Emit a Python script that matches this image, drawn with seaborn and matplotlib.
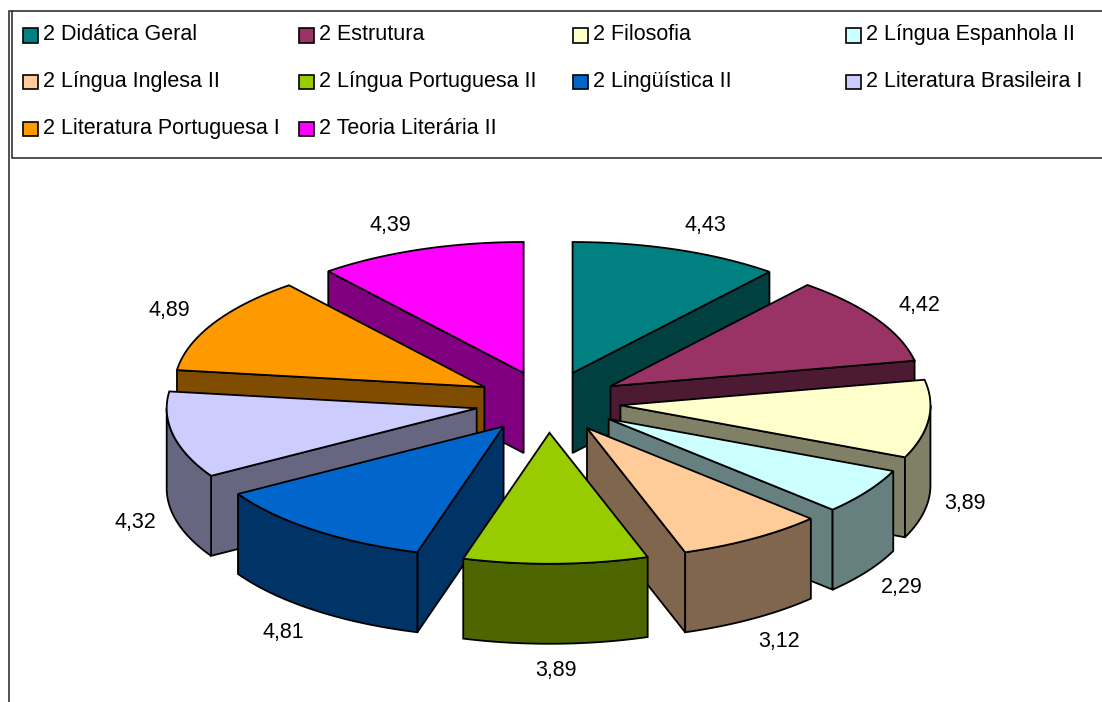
import numpy as np
import matplotlib
matplotlib.use("Agg")
import matplotlib.pyplot as plt
from matplotlib.patches import Patch, Rectangle
from matplotlib.legend_handler import HandlerPatch
import seaborn as sns

categories = ["2 Didática Geral", "2 Estrutura", "2 Filosofia", "2 Língua Espanhola II",
              "2 Língua Inglesa II", "2 Língua Portuguesa II", "2 Lingüística II",
              "2 Literatura Brasileira I", "2 Literatura Portuguesa I", "2 Teoria Literária II"]
values = [4.43, 4.42, 3.89, 2.29, 3.12, 3.89, 4.81, 4.32, 4.89, 4.39]
colors = ["#008080", "#993366", "#FFFFCC", "#CCFFFF", "#FFCC99",
          "#99CC00", "#0066CC", "#CCCCFF", "#FF9900", "#FF00FF"]

sns.set_theme(style="white")
plt.rcParams["font.family"] = ["Liberation Sans", "DejaVu Sans"]
palette = sns.color_palette(colors)
FS = 15.5

fig = plt.figure(figsize=(11.02, 7.02), dpi=100)
ax = fig.add_axes([0, 0, 1, 1])
ax.set_xlim(0, 1102)
ax.set_ylim(702, 0)
ax.axis("off")

# frame lines
EDGE = "#222222"
ax.plot([8.5, 8.5, 1102], [702, 10.5, 10.5], color=EDGE, lw=1.1, solid_joinstyle="miter")
ax.plot([11.5, 11.5, 1102], [10.5, 158, 158], color=EDGE, lw=1.1, solid_joinstyle="miter")

# pie geometry
CX, CY, RX, RY, DEPTH, EXPLODE = 548, 402, 310, 131, 80, 0.235
LABEL_RY = 187
vals = np.array(values)
edges = np.concatenate([[0], np.cumsum(vals)]) / vals.sum() * 2 * np.pi


def unit(a):
    return np.sin(a), -np.cos(a)


def dark(c):
    return tuple(0.5 * v for v in c)


wedges = []
for i, (a0, a1) in enumerate(zip(edges[:-1], edges[1:])):
    wedges.append((i, a0, a1, 0.5 * (a0 + a1)))

line_kw = dict(edgecolor="black", linewidth=1.3, joinstyle="miter")
for i, a0, a1, mid in sorted(wedges, key=lambda w: -np.cos(w[3])):
    ux, uy = unit(mid)
    ax_, ay_ = CX + EXPLODE * RX * ux, CY + EXPLODE * RY * uy
    col, drk = palette[i], dark(palette[i])
    mx, my = ax_ + RX * ux, ay_ + RY * uy
    # radial side faces that look downward
    for a in (a0, a1):
        sx, sy = unit(a)
        ex, ey = ax_ + RX * sx, ay_ + RY * sy
        if abs(ex - ax_) < 1e-6:
            continue
        line_y = ay_ + (ey - ay_) / (ex - ax_) * (mx - ax_)
        if my < line_y:
            ax.fill([ax_, ex, ex, ax_], [ay_, ey, ey + DEPTH, ay_ + DEPTH],
                    facecolor=drk, zorder=1, **line_kw)
    # outer rim, front half only
    lo, hi = max(a0, np.pi / 2), min(a1, 3 * np.pi / 2)
    if hi > lo:
        t = np.linspace(lo, hi, 60)
        px, py = ax_ + RX * np.sin(t), ay_ - RY * np.cos(t)
        ax.fill(np.r_[px, px[::-1]], np.r_[py, py[::-1] + DEPTH],
                facecolor=drk, zorder=1, **line_kw)
    # top face
    t = np.linspace(a0, a1, 80)
    ax.fill(np.r_[ax_, ax_ + RX * np.sin(t)], np.r_[ay_, ay_ - RY * np.cos(t)],
            facecolor=col, zorder=1, **line_kw)
    # value label
    c = np.cos(mid)
    label_rx = 420 + 55 * max(c, 0) ** 2 + 20 * min(c, 0) ** 2
    drop = DEPTH + 2 if c < 0 else 0
    ax.text(CX - 1 + label_rx * ux, CY + LABEL_RY * uy + drop,
            f"{values[i]:.2f}".replace(".", ","), ha="center", va="center",
            fontsize=FS, color="black", zorder=5)


def lowered_square(legend, orig_handle, xdescent, ydescent, width, height, fontsize):
    return Rectangle((-xdescent, -ydescent - 2), width, height)


# legend: one block per column, filled row by row
handles = [Patch(facecolor=palette[i], edgecolor="black", linewidth=1.2) for i in range(len(categories))]
col_x = [23, 299, 573, 846]
for c, x in enumerate(col_x):
    idx = list(range(c, len(categories), 4))
    fig.legend([handles[i] for i in idx], [categories[i] for i in idx],
               loc="upper left", bbox_to_anchor=(x / 1102, 1 - 24 / 702),
               frameon=False, fontsize=FS, borderpad=0, borderaxespad=0,
               handlelength=0.68, handleheight=0.68, handletextpad=0.26,
               labelspacing=1.2, labelcolor="black",
               handler_map={Patch: HandlerPatch(patch_func=lowered_square)})

fig.savefig("out.png", dpi=100, facecolor="white")
